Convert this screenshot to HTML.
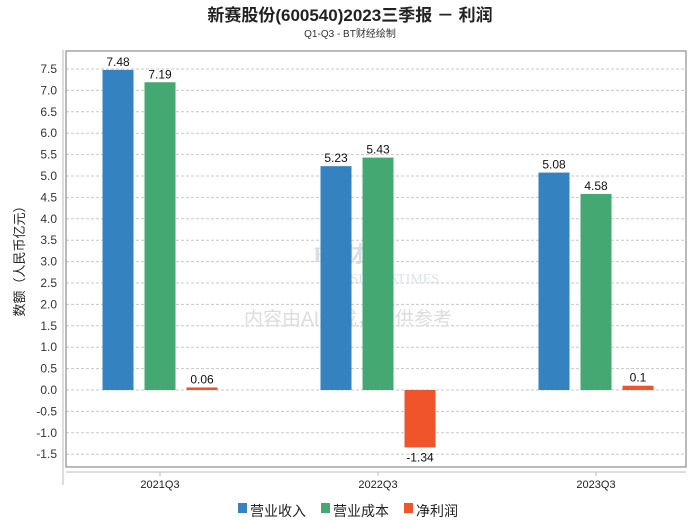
<!DOCTYPE html>
<html><head><meta charset="utf-8"><style>
body{margin:0;background:#fff;font-family:"Liberation Sans","Noto Sans CJK SC",sans-serif}
</style></head><body>
<svg id="c" width="700" height="524" xmlns="http://www.w3.org/2000/svg" font-family="Liberation Sans, Noto Sans CJK SC, sans-serif">
<text x="350" y="21" text-anchor="middle" font-size="17" font-weight="bold" fill="#222">新赛股份(600540)2023三季报 － 利润</text>
<text x="350" y="37" text-anchor="middle" font-size="10" fill="#333">Q1-Q3 - BT财经绘制</text>
<g id="grid"></g>
<rect x="66" y="51" width="620" height="416" fill="none" stroke="#777" stroke-width="1"/>
<line x1="63" y1="50" x2="63" y2="485" stroke="#bbb"/>
<line x1="66" y1="472" x2="686" y2="472" stroke="#bbb"/>
<text x="350" y="262" text-anchor="middle" font-size="22" font-family="Liberation Serif, serif" font-weight="bold" fill="#d8dde6">BT财经</text>
<text x="385" y="283" text-anchor="middle" font-size="14" font-family="Liberation Serif, serif" fill="#dde1e8">BUSINESSTIMES</text>
<text x="348" y="325" text-anchor="middle" font-size="19" fill="#dcdcdc">内容由AI生成，仅供参考</text>
<text transform="translate(24,258) rotate(-90)" text-anchor="middle" font-size="13" fill="#222">数额（人民币亿元）</text>
<g id="bars"></g>
<g font-size="14" fill="#222">
<rect x="238" y="503" width="9" height="10" fill="#3582c0"/><text x="250" y="516">营业收入</text>
<rect x="321" y="503" width="9" height="10" fill="#43a871"/><text x="333" y="516">营业成本</text>
<rect x="404" y="503" width="9" height="10" fill="#f0542a"/><text x="416" y="516">净利润</text>
</g>
</svg>
<script>
const categories=["2021Q3","2022Q3","2023Q3"];
const revenue=[7.48,5.23,5.08];
const cost=[7.19,5.43,4.58];
const profit=[0.06,-1.34,0.1];
const yTicks=[-1.5,-1.0,-0.5,0.0,0.5,1.0,1.5,2.0,2.5,3.0,3.5,4.0,4.5,5.0,5.5,6.0,6.5,7.0,7.5];
const NS="http://www.w3.org/2000/svg";
const y=v=>390-v*42.8;
const xc=i=>160+i*218;
const g=document.getElementById('grid'),b=document.getElementById('bars');
function mk(p,tag,a){const e=document.createElementNS(NS,tag);for(const k in a)e.setAttribute(k,a[k]);p.appendChild(e);return e;}
yTicks.forEach(t=>{
 const l=mk(g,'line',{x1:66,x2:686,y1:y(t),y2:y(t),stroke:'#c8c8c8','stroke-dasharray':'3,2'});
 
 
 const tx=mk(g,'text',{x:57,y:y(t)+4,'text-anchor':'end','font-size':12,fill:'#333'});
 tx.textContent=t.toFixed(1);
 
 
});
categories.forEach((c,i)=>{
 const tk=mk(g,'line',{x1:xc(i),x2:xc(i),y1:472,y2:476,stroke:'#bbb'});
 
 
 const t=mk(g,'text',{x:xc(i),y:488,'text-anchor':'middle','font-size':11,fill:'#222'});
 t.textContent=c;
 
 
});
const series=[[revenue,'#3582c0',-42,'revenue'],[cost,'#43a871',0,'cost'],[profit,'#f0542a',42,'profit']];
series.forEach(([vals,col,off,nm])=>{
 vals.forEach((v,i)=>{
  const x=xc(i)+off-15.5,top=Math.min(y(v),y(0)),h=Math.abs(y(v)-y(0));
  const r=mk(b,'rect',{x:x,y:top,width:31,height:h,fill:col});
  
  
  const t=mk(b,'text',{x:xc(i)+off,y:v>=0?y(v)-4:y(v)+14,'text-anchor':'middle','font-size':12,fill:'#111'});
  t.textContent=String(v);
  
  
 });
});
</script>
</body></html>
